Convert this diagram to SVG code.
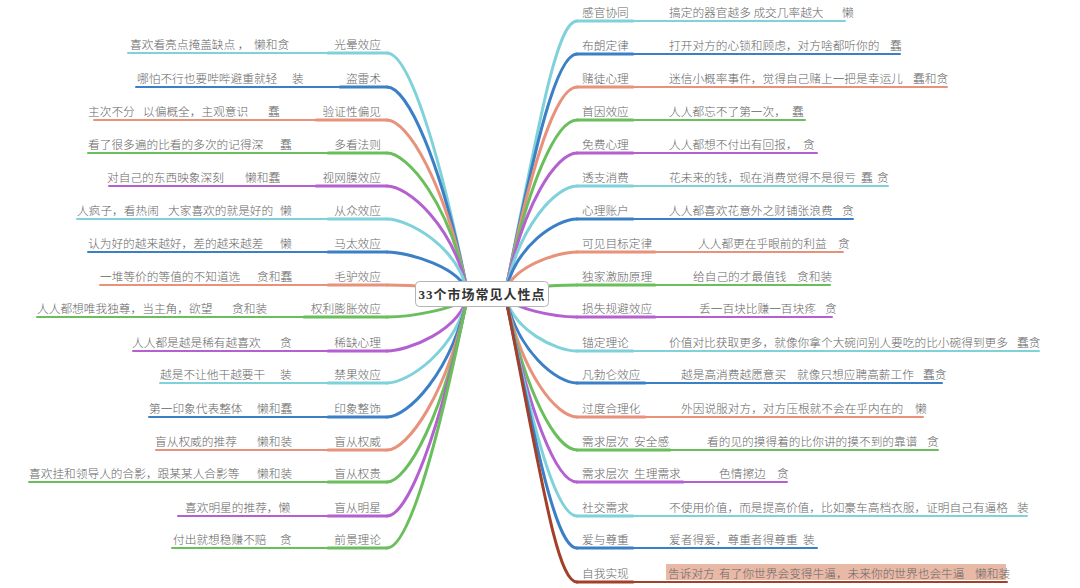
<svg xmlns="http://www.w3.org/2000/svg" width="1080" height="588" viewBox="0 0 1080 588">
<style>
.t{font-family:"Noto Sans CJK SC","Noto Sans",sans-serif;font-size:11.7px;font-weight:300;fill:#666666}
.e{text-anchor:end}
.k{fill:none;stroke-width:3;stroke-linecap:round}
.n{fill:none;stroke-width:2;stroke-linecap:round}
.cy{stroke:#80d2da}.bl{stroke:#3b80c6}.sa{stroke:#e8927b}.gr{stroke:#6abf5c}.pu{stroke:#b460d0}.dr{stroke:#a3402a}
.title{font-family:"Liberation Serif","Noto Sans CJK SC",serif;font-size:13px;font-weight:bold;fill:#333;text-anchor:middle;letter-spacing:1px}
</style>
<rect width="1080" height="588" fill="#ffffff"/>
<g id="connectors">
<path class="k cy" d="M387,53 C407,53 437,137 468,294"/>
<path class="k bl" d="M387,87 C407,87 441,159 468,294"/>
<path class="k sa" d="M387,120 C407,120 445,181 468,294"/>
<path class="k gr" d="M387,153 C407,153 450,202 468,294"/>
<path class="k pu" d="M387,186 C407,186 454,224 468,294"/>
<path class="k cy" d="M387,219 C407,219 458,245 468,294"/>
<path class="k bl" d="M387,252 C407,252 462,267 468,294"/>
<path class="k sa" d="M387,285 C407,285 467,288 468,294"/>
<path class="k gr" d="M387,317 C407,317 465,309 468,294"/>
<path class="k pu" d="M387,351 C407,351 461,331 468,294"/>
<path class="k cy" d="M387,383 C407,383 456,352 468,294"/>
<path class="k bl" d="M387,417 C407,417 452,374 468,294"/>
<path class="k sa" d="M387,450 C407,450 448,395 468,294"/>
<path class="k gr" d="M387,482 C407,482 444,416 468,294"/>
<path class="k pu" d="M387,516 C407,516 439,438 468,294"/>
<path class="k gr" d="M387,548 C407,548 435,459 468,294"/>
<path class="k cy" d="M577,21 C557,21 540,117 505,294"/>
<path class="k bl" d="M577,54 C557,54 536,138 505,294"/>
<path class="k sa" d="M577,87 C557,87 532,159 505,294"/>
<path class="k gr" d="M577,120 C557,120 528,181 505,294"/>
<path class="k pu" d="M577,153 C557,153 523,202 505,294"/>
<path class="k cy" d="M577,186 C557,186 519,224 505,294"/>
<path class="k bl" d="M577,219 C557,219 515,245 505,294"/>
<path class="k sa" d="M577,252 C557,252 510,267 505,294"/>
<path class="k gr" d="M577,285 C557,285 506,288 505,294"/>
<path class="k pu" d="M577,317 C557,317 508,309 505,294"/>
<path class="k cy" d="M577,351 C557,351 512,331 505,294"/>
<path class="k bl" d="M577,383 C557,383 517,352 505,294"/>
<path class="k sa" d="M577,417 C557,417 521,374 505,294"/>
<path class="k gr" d="M577,450 C557,450 525,395 505,294"/>
<path class="k pu" d="M577,482 C557,482 529,416 505,294"/>
<path class="k cy" d="M577,516 C557,516 534,438 505,294"/>
<path class="k bl" d="M577,548 C557,548 538,459 505,294"/>
<path class="k dr" d="M577,582 C557,582 542,481 505,294"/>
</g>
<g id="L1"><path class="n cy" d="M128,53H328"/><path class="k cy" d="M328,53H387"/><text class="t e" x="381" y="49">光晕效应</text><text class="t" y="49"><tspan x="130">喜欢看亮点掩盖缺点 ，</tspan><tspan x="254">懒和贪</tspan></text></g>
<g id="L2"><path class="n bl" d="M136,87H340"/><path class="k bl" d="M340,87H387"/><text class="t e" x="381" y="83">盗雷术</text><text class="t" y="83"><tspan x="137">哪怕不行也要哔哔避重就轻</tspan><tspan x="292">装</tspan></text></g>
<g id="L3"><path class="n sa" d="M94,120H316"/><path class="k sa" d="M316,120H387"/><text class="t e" x="381" y="116">验证性偏见</text><text class="t" y="116"><tspan x="88">主次不分</tspan><tspan x="143">以偏概全，主观意识</tspan><tspan x="268">蠢</tspan></text></g>
<g id="L4"><path class="n gr" d="M88,153H328"/><path class="k gr" d="M328,153H387"/><text class="t e" x="381" y="149">多看法则</text><text class="t" y="149"><tspan x="88">看了很多遍的比看的多次的记得深</tspan><tspan x="280">蠢</tspan></text></g>
<g id="L5"><path class="n pu" d="M109,186H316"/><path class="k pu" d="M316,186H387"/><text class="t e" x="381" y="182">视网膜效应</text><text class="t" y="182"><tspan x="107">对自己的东西映象深刻</tspan><tspan x="245">懒和蠢</tspan></text></g>
<g id="L6"><path class="n cy" d="M77,219H328"/><path class="k cy" d="M328,219H387"/><text class="t e" x="381" y="215">从众效应</text><text class="t" y="215"><tspan x="77">人疯子，看热闹</tspan><tspan x="168">大家喜欢的就是好的</tspan><tspan x="280">懒</tspan></text></g>
<g id="L7"><path class="n bl" d="M88,252H328"/><path class="k bl" d="M328,252H387"/><text class="t e" x="381" y="248">马太效应</text><text class="t" y="248"><tspan x="88">认为好的越来越好，差的越来越差</tspan><tspan x="280">懒</tspan></text></g>
<g id="L8"><path class="n sa" d="M100,285H328"/><path class="k sa" d="M328,285H387"/><text class="t e" x="381" y="281">毛驴效应</text><text class="t" y="281"><tspan x="100">一堆等价的等值的不知道选</tspan><tspan x="257">贪和蠢</tspan></text></g>
<g id="L9"><path class="n gr" d="M37,317H304"/><path class="k gr" d="M304,317H387"/><text class="t e" x="381" y="313">权利膨胀效应</text><text class="t" y="313"><tspan x="37">人人都想唯我独尊，当主角，欲望</tspan><tspan x="232">贪和装</tspan></text></g>
<g id="L10"><path class="n pu" d="M133,351H328"/><path class="k pu" d="M328,351H387"/><text class="t e" x="381" y="347">稀缺心理</text><text class="t" y="347"><tspan x="132">人人都是越是稀有越喜欢</tspan><tspan x="280">贪</tspan></text></g>
<g id="L11"><path class="n cy" d="M160,383H328"/><path class="k cy" d="M328,383H387"/><text class="t e" x="381" y="379">禁果效应</text><text class="t" y="379"><tspan x="160">越是不让他干越要干</tspan><tspan x="280">装</tspan></text></g>
<g id="L12"><path class="n bl" d="M149,417H328"/><path class="k bl" d="M328,417H387"/><text class="t e" x="381" y="413">印象整饰</text><text class="t" y="413"><tspan x="149">第一印象代表整体</tspan><tspan x="257">懒和蠢</tspan></text></g>
<g id="L13"><path class="n sa" d="M156,450H328"/><path class="k sa" d="M328,450H387"/><text class="t e" x="381" y="446">盲从权威</text><text class="t" y="446"><tspan x="155">盲从权威的推荐</tspan><tspan x="257">懒和装</tspan></text></g>
<g id="L14"><path class="n gr" d="M29,482H328"/><path class="k gr" d="M328,482H387"/><text class="t e" x="381" y="478">盲从权贵</text><text class="t" y="478"><tspan x="29">喜欢挂和领导人的合影，跟某某人合影等</tspan><tspan x="257">懒和装</tspan></text></g>
<g id="L15"><path class="n pu" d="M178,516H328"/><path class="k pu" d="M328,516H387"/><text class="t e" x="381" y="512">盲从明星</text><text class="t" x="185" y="512">喜欢明星的推荐，懒</text></g>
<g id="L16"><path class="n gr" d="M172,548H328"/><path class="k gr" d="M328,548H387"/><text class="t e" x="381" y="544">前景理论</text><text class="t" y="544"><tspan x="173">付出就想稳赚不赔</tspan><tspan x="280">贪</tspan></text></g>
<g id="R1"><path class="k cy" d="M577,21H633"/><path class="n cy" d="M633,21H845"/><text class="t" x="582" y="17">感官协同</text><text class="t" y="17"><tspan x="669">搞定的器官越多 成交几率越大</tspan><tspan x="842">懒</tspan></text></g>
<g id="R2"><path class="k bl" d="M577,54H633"/><path class="n bl" d="M633,54H900"/><text class="t" x="582" y="50">布朗定律</text><text class="t" y="50"><tspan x="669">打开对方的心锁和顾虑，对方啥都听你的</tspan><tspan x="890">蠢</tspan></text></g>
<g id="R3"><path class="k sa" d="M577,87H633"/><path class="n sa" d="M633,87H947"/><text class="t" x="582" y="83">赌徒心理</text><text class="t" y="83"><tspan x="669">迷信小概率事件，觉得自己赌上一把是幸运儿</tspan><tspan x="913">蠢和贪</tspan></text></g>
<g id="R4"><path class="k gr" d="M577,120H633"/><path class="n gr" d="M633,120H805"/><text class="t" x="582" y="116">首因效应</text><text class="t" y="116"><tspan x="669">人人都忘不了第一次，</tspan><tspan x="792">蠢</tspan></text></g>
<g id="R5"><path class="k pu" d="M577,153H633"/><path class="n pu" d="M633,153H817"/><text class="t" x="582" y="149">免费心理</text><text class="t" y="149"><tspan x="669">人人都想不付出有回报，</tspan><tspan x="803">贪</tspan></text></g>
<g id="R6"><path class="k cy" d="M577,186H633"/><path class="n cy" d="M633,186H888"/><text class="t" x="582" y="182">透支消费</text><text class="t" y="182"><tspan x="669">花未来的钱，现在消费觉得不是很亏</tspan><tspan x="861">蠢</tspan><tspan x="877">贪</tspan></text></g>
<g id="R7"><path class="k bl" d="M577,219H633"/><path class="n bl" d="M633,219H853"/><text class="t" x="582" y="215">心理账户</text><text class="t" y="215"><tspan x="669">人人都喜欢花意外之财铺张浪费</tspan><tspan x="842">贪</tspan></text></g>
<g id="R8"><path class="k sa" d="M577,252H655"/><path class="n sa" d="M655,252H843"/><text class="t" x="582" y="248">可见目标定律</text><text class="t" y="248"><tspan x="698">人人都更在乎眼前的利益</tspan><tspan x="838">贪</tspan></text></g>
<g id="R9"><path class="k gr" d="M577,285H655"/><path class="n gr" d="M655,285H830"/><text class="t" x="582" y="281">独家激励原理</text><text class="t" y="281"><tspan x="693">给自己的才最值钱</tspan><tspan x="797">贪和装</tspan></text></g>
<g id="R10"><path class="k pu" d="M577,317H655"/><path class="n pu" d="M655,317H832"/><text class="t" x="582" y="313">损失规避效应</text><text class="t" y="313"><tspan x="699">丢一百块比赚一百块疼</tspan><tspan x="825">贪</tspan></text></g>
<g id="R11"><path class="k cy" d="M577,351H633"/><path class="n cy" d="M633,351H1039"/><text class="t" x="582" y="347">锚定理论</text><text class="t" y="347"><tspan x="669">价值对比获取更多，就像你拿个大碗问别人要吃的比小碗得到更多</tspan><tspan x="1017">蠢贪</tspan></text></g>
<g id="R12"><path class="k bl" d="M577,383H645"/><path class="n bl" d="M645,383H942"/><text class="t" x="582" y="379">凡勃仑效应</text><text class="t" y="379"><tspan x="681">越是高消费越愿意买</tspan><tspan x="797">就像只想应聘高薪工作</tspan><tspan x="923">蠢贪</tspan></text></g>
<g id="R13"><path class="k sa" d="M577,417H645"/><path class="n sa" d="M645,417H923"/><text class="t" x="582" y="413">过度合理化</text><text class="t" y="413"><tspan x="681">外因说服对方，对方压根就不会在乎内在的</tspan><tspan x="915">懒</tspan></text></g>
<g id="R14"><path class="k gr" d="M577,450H670"/><path class="n gr" d="M670,450H938"/><text class="t" y="446"><tspan x="582">需求层次</tspan><tspan x="634">安全感</tspan></text><text class="t" y="446"><tspan x="707">看的见的摸得着的比你讲的摸不到的靠谱</tspan><tspan x="927">贪</tspan></text></g>
<g id="R15"><path class="k pu" d="M577,482H683"/><path class="n pu" d="M683,482H787"/><text class="t" y="478"><tspan x="582">需求层次</tspan><tspan x="634">生理需求</tspan></text><text class="t" y="478"><tspan x="719">色情擦边</tspan><tspan x="777">贪</tspan></text></g>
<g id="R16"><path class="k cy" d="M577,516H633"/><path class="n cy" d="M633,516H1027"/><text class="t" x="582" y="512">社交需求</text><text class="t" y="512"><tspan x="669">不使用价值，而是提高价值，比如豪车高档衣服，证明自己有逼格</tspan><tspan x="1017">装</tspan></text></g>
<g id="R17"><path class="k bl" d="M577,548H633"/><path class="n bl" d="M633,548H817"/><text class="t" x="582" y="544">爱与尊重</text><text class="t" y="544"><tspan x="669">爱者得爱，尊重者得尊重</tspan><tspan x="803">装</tspan></text></g>
<g id="R18"><rect x="666" y="564" width="340" height="16" fill="#e9b9a8"/><path class="k dr" d="M577,582H633"/><path class="n dr" d="M633,582H1007"/><text class="t" x="582" y="578">自我实现</text><text class="t" y="578"><tspan x="668">告诉对方</tspan><tspan x="719">有了你世界会变得牛逼，未来你的世界也会牛逼</tspan><tspan x="975">懒和装</tspan></text></g>
<g id="center"><rect x="415.5" y="281.5" width="133" height="25" rx="4" fill="#ffffff" stroke="#b4b4b4" stroke-width="1"/><text class="title" x="482" y="298.5">33个市场常见人性点</text></g>
</svg>
